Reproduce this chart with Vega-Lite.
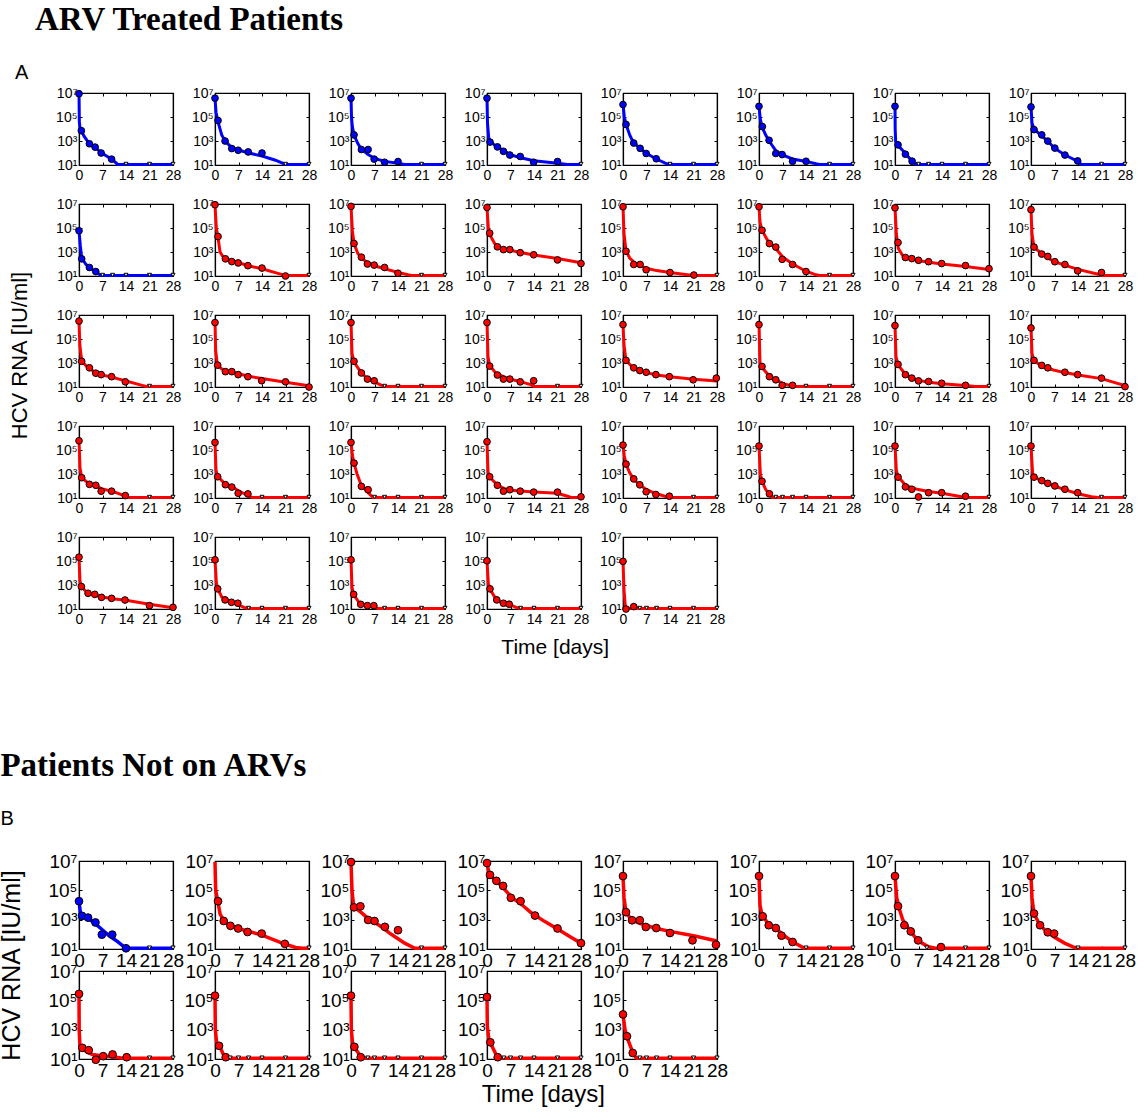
{
"$schema": "https://vega.github.io/schema/vega-lite/v6.json",
"background": "white",
"padding": {"left": 0, "top": 4, "right": 5, "bottom": 5},
"config": {
  "view": {"stroke": "black", "strokeWidth": 1.2},
  "axis": {"grid": false, "domainColor": "black", "domainWidth": 1.2, "tickColor": "black", "tickSize": -3, "tickWidth": 1, "labelColor": "black", "labelFont": "Liberation Sans", "title": null, "labelPadding": 6, "labelFlush": false, "labelOverlap": false},
  "headerFacet": {"labels": false, "labelExpr": "''", "labelFontSize": 1, "labelPadding": 0, "titlePadding": 0},
  "header": {"labels": false, "labelExpr": "''", "labelFontSize": 1, "labelPadding": 0, "titlePadding": 0},
  "title": {"font": "Liberation Sans", "fontWeight": "normal", "color": "black"}
},
"data": {"values": [
{"p":"A01","c":"b","k":"f","t":0,"v":6.94},{"p":"A01","c":"b","k":"f","t":0.1,"v":4.6},{"p":"A01","c":"b","k":"f","t":0.3,"v":4.1},{"p":"A01","c":"b","k":"f","t":0.7,"v":3.86},{"p":"A01","c":"b","k":"f","t":1.5,"v":3.4},{"p":"A01","c":"b","k":"f","t":3,"v":2.8},{"p":"A01","c":"b","k":"f","t":5,"v":2.4},{"p":"A01","c":"b","k":"f","t":7,"v":1.95},{"p":"A01","c":"b","k":"f","t":10,"v":1.45},{"p":"A01","c":"b","k":"f","t":11.5,"v":1.05},{"p":"A01","c":"b","k":"f","t":28,"v":1.05},
{"p":"A01","c":"b","k":"o","t":0,"v":6.94},{"p":"A01","c":"b","k":"o","t":0.7,"v":3.86},{"p":"A01","c":"b","k":"o","t":3.1,"v":2.77},{"p":"A01","c":"b","k":"o","t":4.8,"v":2.49},{"p":"A01","c":"b","k":"o","t":6.6,"v":2.0},{"p":"A01","c":"b","k":"o","t":9.7,"v":1.49},
{"p":"A01","c":"b","k":"q","t":14,"v":1.08},{"p":"A01","c":"b","k":"q","t":21,"v":1.08},{"p":"A01","c":"b","k":"q","t":28,"v":1.08},
{"p":"A02","c":"b","k":"f","t":0,"v":6.57},{"p":"A02","c":"b","k":"f","t":0.3,"v":5.4},{"p":"A02","c":"b","k":"f","t":0.9,"v":4.6},{"p":"A02","c":"b","k":"f","t":2,"v":3.5},{"p":"A02","c":"b","k":"f","t":3,"v":3.0},{"p":"A02","c":"b","k":"f","t":5,"v":2.45},{"p":"A02","c":"b","k":"f","t":7,"v":2.25},{"p":"A02","c":"b","k":"f","t":10,"v":2.0},{"p":"A02","c":"b","k":"f","t":14,"v":1.75},{"p":"A02","c":"b","k":"f","t":18,"v":1.4},{"p":"A02","c":"b","k":"f","t":21,"v":1.05},{"p":"A02","c":"b","k":"f","t":28,"v":1.05},
{"p":"A02","c":"b","k":"o","t":0,"v":6.57},{"p":"A02","c":"b","k":"o","t":0.9,"v":4.71},{"p":"A02","c":"b","k":"o","t":3,"v":3.0},{"p":"A02","c":"b","k":"o","t":5,"v":2.37},{"p":"A02","c":"b","k":"o","t":6.9,"v":2.23},{"p":"A02","c":"b","k":"o","t":9.9,"v":2.09},{"p":"A02","c":"b","k":"o","t":14,"v":2.0},
{"p":"A02","c":"b","k":"q","t":21,"v":1.08},{"p":"A02","c":"b","k":"q","t":28,"v":1.08},
{"p":"A03","c":"b","k":"f","t":0,"v":6.57},{"p":"A03","c":"b","k":"f","t":0.15,"v":5.0},{"p":"A03","c":"b","k":"f","t":0.4,"v":4.2},{"p":"A03","c":"b","k":"f","t":0.9,"v":3.5},{"p":"A03","c":"b","k":"f","t":2,"v":2.8},{"p":"A03","c":"b","k":"f","t":3,"v":2.35},{"p":"A03","c":"b","k":"f","t":5,"v":1.9},{"p":"A03","c":"b","k":"f","t":7,"v":1.55},{"p":"A03","c":"b","k":"f","t":10,"v":1.3},{"p":"A03","c":"b","k":"f","t":14,"v":1.15},{"p":"A03","c":"b","k":"f","t":16,"v":1.05},{"p":"A03","c":"b","k":"f","t":28,"v":1.05},
{"p":"A03","c":"b","k":"o","t":0,"v":6.57},{"p":"A03","c":"b","k":"o","t":0.9,"v":3.51},{"p":"A03","c":"b","k":"o","t":3.1,"v":2.29},{"p":"A03","c":"b","k":"o","t":5.1,"v":2.29},{"p":"A03","c":"b","k":"o","t":6.9,"v":1.49},{"p":"A03","c":"b","k":"o","t":10,"v":1.23},{"p":"A03","c":"b","k":"o","t":14,"v":1.29},
{"p":"A03","c":"b","k":"q","t":21,"v":1.08},{"p":"A03","c":"b","k":"q","t":28,"v":1.08},
{"p":"A04","c":"b","k":"f","t":0,"v":6.57},{"p":"A04","c":"b","k":"f","t":0.15,"v":4.5},{"p":"A04","c":"b","k":"f","t":0.5,"v":3.3},{"p":"A04","c":"b","k":"f","t":0.9,"v":3.0},{"p":"A04","c":"b","k":"f","t":2.5,"v":2.6},{"p":"A04","c":"b","k":"f","t":5,"v":2.2},{"p":"A04","c":"b","k":"f","t":7,"v":1.85},{"p":"A04","c":"b","k":"f","t":10,"v":1.6},{"p":"A04","c":"b","k":"f","t":14,"v":1.35},{"p":"A04","c":"b","k":"f","t":21,"v":1.15},{"p":"A04","c":"b","k":"f","t":24,"v":1.05},{"p":"A04","c":"b","k":"f","t":28,"v":1.05},
{"p":"A04","c":"b","k":"o","t":0,"v":6.57},{"p":"A04","c":"b","k":"o","t":0.9,"v":2.91},{"p":"A04","c":"b","k":"o","t":3.1,"v":2.51},{"p":"A04","c":"b","k":"o","t":4.9,"v":2.14},{"p":"A04","c":"b","k":"o","t":6.8,"v":1.83},{"p":"A04","c":"b","k":"o","t":9.9,"v":1.71},{"p":"A04","c":"b","k":"o","t":13.9,"v":1.23},{"p":"A04","c":"b","k":"o","t":21,"v":1.29},
{"p":"A04","c":"b","k":"q","t":28,"v":1.08},
{"p":"A05","c":"b","k":"f","t":0,"v":6.04},{"p":"A05","c":"b","k":"f","t":0.4,"v":5.0},{"p":"A05","c":"b","k":"f","t":1,"v":4.3},{"p":"A05","c":"b","k":"f","t":2,"v":3.5},{"p":"A05","c":"b","k":"f","t":3,"v":2.9},{"p":"A05","c":"b","k":"f","t":5,"v":2.4},{"p":"A05","c":"b","k":"f","t":7,"v":1.95},{"p":"A05","c":"b","k":"f","t":10,"v":1.5},{"p":"A05","c":"b","k":"f","t":13,"v":1.1},{"p":"A05","c":"b","k":"f","t":14,"v":1.05},{"p":"A05","c":"b","k":"f","t":28,"v":1.05},
{"p":"A05","c":"b","k":"o","t":0,"v":6.04},{"p":"A05","c":"b","k":"o","t":0.9,"v":4.38},{"p":"A05","c":"b","k":"o","t":3.2,"v":2.83},{"p":"A05","c":"b","k":"o","t":5.1,"v":2.39},{"p":"A05","c":"b","k":"o","t":6.9,"v":1.96},{"p":"A05","c":"b","k":"o","t":9.9,"v":1.52},
{"p":"A05","c":"b","k":"q","t":14,"v":1.08},{"p":"A05","c":"b","k":"q","t":21,"v":1.08},{"p":"A05","c":"b","k":"q","t":28,"v":1.08},
{"p":"A06","c":"b","k":"f","t":0,"v":5.89},{"p":"A06","c":"b","k":"f","t":0.4,"v":4.8},{"p":"A06","c":"b","k":"f","t":1,"v":4.1},{"p":"A06","c":"b","k":"f","t":2,"v":3.5},{"p":"A06","c":"b","k":"f","t":3,"v":3.0},{"p":"A06","c":"b","k":"f","t":5,"v":2.2},{"p":"A06","c":"b","k":"f","t":7,"v":1.85},{"p":"A06","c":"b","k":"f","t":10,"v":1.5},{"p":"A06","c":"b","k":"f","t":14,"v":1.3},{"p":"A06","c":"b","k":"f","t":17,"v":1.1},{"p":"A06","c":"b","k":"f","t":18,"v":1.05},{"p":"A06","c":"b","k":"f","t":28,"v":1.05},
{"p":"A06","c":"b","k":"o","t":0,"v":5.89},{"p":"A06","c":"b","k":"o","t":1,"v":4.2},{"p":"A06","c":"b","k":"o","t":3,"v":3.06},{"p":"A06","c":"b","k":"o","t":5,"v":1.96},{"p":"A06","c":"b","k":"o","t":6.9,"v":1.87},{"p":"A06","c":"b","k":"o","t":10,"v":1.31},{"p":"A06","c":"b","k":"o","t":14,"v":1.31},
{"p":"A06","c":"b","k":"q","t":21,"v":1.08},{"p":"A06","c":"b","k":"q","t":28,"v":1.08},
{"p":"A07","c":"b","k":"f","t":0,"v":5.89},{"p":"A07","c":"b","k":"f","t":0.05,"v":4.0},{"p":"A07","c":"b","k":"f","t":0.2,"v":2.95},{"p":"A07","c":"b","k":"f","t":1,"v":2.6},{"p":"A07","c":"b","k":"f","t":3,"v":2.0},{"p":"A07","c":"b","k":"f","t":4.5,"v":1.5},{"p":"A07","c":"b","k":"f","t":6,"v":1.1},{"p":"A07","c":"b","k":"f","t":7,"v":1.05},{"p":"A07","c":"b","k":"f","t":28,"v":1.05},
{"p":"A07","c":"b","k":"o","t":0,"v":5.89},{"p":"A07","c":"b","k":"o","t":0.9,"v":2.68},{"p":"A07","c":"b","k":"o","t":3.1,"v":1.9},{"p":"A07","c":"b","k":"o","t":5.1,"v":1.32},
{"p":"A07","c":"b","k":"q","t":7,"v":1.08},{"p":"A07","c":"b","k":"q","t":10,"v":1.08},{"p":"A07","c":"b","k":"q","t":14,"v":1.08},{"p":"A07","c":"b","k":"q","t":21,"v":1.08},{"p":"A07","c":"b","k":"q","t":28,"v":1.08},
{"p":"A08","c":"b","k":"f","t":0,"v":5.84},{"p":"A08","c":"b","k":"f","t":0.3,"v":4.5},{"p":"A08","c":"b","k":"f","t":0.9,"v":4.0},{"p":"A08","c":"b","k":"f","t":2.5,"v":3.6},{"p":"A08","c":"b","k":"f","t":5,"v":3.0},{"p":"A08","c":"b","k":"f","t":7,"v":2.4},{"p":"A08","c":"b","k":"f","t":10,"v":1.85},{"p":"A08","c":"b","k":"f","t":14,"v":1.3},{"p":"A08","c":"b","k":"f","t":15,"v":1.05},{"p":"A08","c":"b","k":"f","t":28,"v":1.05},
{"p":"A08","c":"b","k":"o","t":0,"v":5.84},{"p":"A08","c":"b","k":"o","t":0.9,"v":3.95},{"p":"A08","c":"b","k":"o","t":3.2,"v":3.51},{"p":"A08","c":"b","k":"o","t":5,"v":2.99},{"p":"A08","c":"b","k":"o","t":7.1,"v":2.41},{"p":"A08","c":"b","k":"o","t":10.1,"v":1.83},{"p":"A08","c":"b","k":"o","t":13.9,"v":1.34},
{"p":"A08","c":"b","k":"q","t":21,"v":1.08},{"p":"A08","c":"b","k":"q","t":28,"v":1.08},
{"p":"A09","c":"b","k":"f","t":0,"v":4.77},{"p":"A09","c":"b","k":"f","t":0.4,"v":3.5},{"p":"A09","c":"b","k":"f","t":0.8,"v":2.5},{"p":"A09","c":"b","k":"f","t":2,"v":2.0},{"p":"A09","c":"b","k":"f","t":3,"v":1.7},{"p":"A09","c":"b","k":"f","t":5,"v":1.35},{"p":"A09","c":"b","k":"f","t":6.5,"v":1.05},{"p":"A09","c":"b","k":"f","t":28,"v":1.05},
{"p":"A09","c":"b","k":"o","t":0,"v":4.77},{"p":"A09","c":"b","k":"o","t":0.8,"v":2.43},{"p":"A09","c":"b","k":"o","t":3.1,"v":1.71},{"p":"A09","c":"b","k":"o","t":5,"v":1.37},
{"p":"A09","c":"b","k":"q","t":7,"v":1.08},{"p":"A09","c":"b","k":"q","t":10,"v":1.08},{"p":"A09","c":"b","k":"q","t":14,"v":1.08},{"p":"A09","c":"b","k":"q","t":21,"v":1.08},{"p":"A09","c":"b","k":"q","t":28,"v":1.08},
{"p":"A10","c":"r","k":"f","t":0,"v":6.94},{"p":"A10","c":"r","k":"f","t":0.4,"v":5.0},{"p":"A10","c":"r","k":"f","t":0.9,"v":4.2},{"p":"A10","c":"r","k":"f","t":1.5,"v":3.0},{"p":"A10","c":"r","k":"f","t":2.5,"v":2.55},{"p":"A10","c":"r","k":"f","t":5,"v":2.25},{"p":"A10","c":"r","k":"f","t":7,"v":2.1},{"p":"A10","c":"r","k":"f","t":10,"v":1.85},{"p":"A10","c":"r","k":"f","t":14,"v":1.6},{"p":"A10","c":"r","k":"f","t":19,"v":1.2},{"p":"A10","c":"r","k":"f","t":21,"v":1.05},{"p":"A10","c":"r","k":"f","t":28,"v":1.05},
{"p":"A10","c":"r","k":"o","t":0,"v":6.94},{"p":"A10","c":"r","k":"o","t":0.9,"v":4.29},{"p":"A10","c":"r","k":"o","t":3.1,"v":2.43},{"p":"A10","c":"r","k":"o","t":5,"v":2.2},{"p":"A10","c":"r","k":"o","t":6.9,"v":2.09},{"p":"A10","c":"r","k":"o","t":9.8,"v":1.86},{"p":"A10","c":"r","k":"o","t":14,"v":1.66},{"p":"A10","c":"r","k":"o","t":21,"v":1.0},
{"p":"A10","c":"r","k":"q","t":28,"v":1.08},
{"p":"A11","c":"r","k":"f","t":0,"v":6.8},{"p":"A11","c":"r","k":"f","t":0.4,"v":4.8},{"p":"A11","c":"r","k":"f","t":0.9,"v":3.7},{"p":"A11","c":"r","k":"f","t":2,"v":2.9},{"p":"A11","c":"r","k":"f","t":3,"v":2.5},{"p":"A11","c":"r","k":"f","t":5,"v":2.1},{"p":"A11","c":"r","k":"f","t":7,"v":1.85},{"p":"A11","c":"r","k":"f","t":10,"v":1.6},{"p":"A11","c":"r","k":"f","t":14,"v":1.3},{"p":"A11","c":"r","k":"f","t":17,"v":1.1},{"p":"A11","c":"r","k":"f","t":18,"v":1.05},{"p":"A11","c":"r","k":"f","t":28,"v":1.05},
{"p":"A11","c":"r","k":"o","t":0,"v":6.8},{"p":"A11","c":"r","k":"o","t":0.9,"v":3.71},{"p":"A11","c":"r","k":"o","t":3.1,"v":2.57},{"p":"A11","c":"r","k":"o","t":4.9,"v":2.0},{"p":"A11","c":"r","k":"o","t":6.9,"v":1.91},{"p":"A11","c":"r","k":"o","t":10,"v":1.71},{"p":"A11","c":"r","k":"o","t":14,"v":1.23},
{"p":"A11","c":"r","k":"q","t":21,"v":1.08},{"p":"A11","c":"r","k":"q","t":28,"v":1.08},
{"p":"A12","c":"r","k":"f","t":0,"v":6.71},{"p":"A12","c":"r","k":"f","t":0.4,"v":5.0},{"p":"A12","c":"r","k":"f","t":0.9,"v":4.4},{"p":"A12","c":"r","k":"f","t":2.5,"v":3.6},{"p":"A12","c":"r","k":"f","t":4,"v":3.3},{"p":"A12","c":"r","k":"f","t":7,"v":3.15},{"p":"A12","c":"r","k":"f","t":10,"v":2.95},{"p":"A12","c":"r","k":"f","t":14,"v":2.75},{"p":"A12","c":"r","k":"f","t":21,"v":2.45},{"p":"A12","c":"r","k":"f","t":28,"v":2.1},
{"p":"A12","c":"r","k":"o","t":0,"v":6.71},{"p":"A12","c":"r","k":"o","t":0.8,"v":4.57},{"p":"A12","c":"r","k":"o","t":3.1,"v":3.43},{"p":"A12","c":"r","k":"o","t":4.9,"v":3.2},{"p":"A12","c":"r","k":"o","t":6.8,"v":3.2},{"p":"A12","c":"r","k":"o","t":9.9,"v":2.94},{"p":"A12","c":"r","k":"o","t":13.9,"v":2.77},{"p":"A12","c":"r","k":"o","t":21,"v":2.34},{"p":"A12","c":"r","k":"o","t":28,"v":2.04},
{"p":"A13","c":"r","k":"f","t":0,"v":6.77},{"p":"A13","c":"r","k":"f","t":0.3,"v":4.5},{"p":"A13","c":"r","k":"f","t":0.9,"v":3.1},{"p":"A13","c":"r","k":"f","t":2,"v":2.5},{"p":"A13","c":"r","k":"f","t":3.5,"v":2.1},{"p":"A13","c":"r","k":"f","t":5,"v":1.85},{"p":"A13","c":"r","k":"f","t":7,"v":1.65},{"p":"A13","c":"r","k":"f","t":10,"v":1.45},{"p":"A13","c":"r","k":"f","t":14,"v":1.3},{"p":"A13","c":"r","k":"f","t":18,"v":1.15},{"p":"A13","c":"r","k":"f","t":21,"v":1.05},{"p":"A13","c":"r","k":"f","t":28,"v":1.05},
{"p":"A13","c":"r","k":"o","t":0,"v":6.77},{"p":"A13","c":"r","k":"o","t":0.9,"v":3.06},{"p":"A13","c":"r","k":"o","t":3.2,"v":1.96},{"p":"A13","c":"r","k":"o","t":5.1,"v":1.96},{"p":"A13","c":"r","k":"o","t":6.9,"v":1.52},{"p":"A13","c":"r","k":"o","t":14,"v":1.29},{"p":"A13","c":"r","k":"o","t":21.1,"v":1.08},
{"p":"A13","c":"r","k":"q","t":28,"v":1.08},
{"p":"A14","c":"r","k":"f","t":0,"v":6.77},{"p":"A14","c":"r","k":"f","t":0.3,"v":5.5},{"p":"A14","c":"r","k":"f","t":0.9,"v":4.8},{"p":"A14","c":"r","k":"f","t":2.5,"v":4.0},{"p":"A14","c":"r","k":"f","t":5,"v":3.3},{"p":"A14","c":"r","k":"f","t":7,"v":2.6},{"p":"A14","c":"r","k":"f","t":10,"v":2.0},{"p":"A14","c":"r","k":"f","t":14,"v":1.4},{"p":"A14","c":"r","k":"f","t":17,"v":1.1},{"p":"A14","c":"r","k":"f","t":18,"v":1.05},{"p":"A14","c":"r","k":"f","t":28,"v":1.05},
{"p":"A14","c":"r","k":"o","t":0,"v":6.77},{"p":"A14","c":"r","k":"o","t":0.9,"v":4.81},{"p":"A14","c":"r","k":"o","t":3.1,"v":3.7},{"p":"A14","c":"r","k":"o","t":5,"v":3.41},{"p":"A14","c":"r","k":"o","t":6.9,"v":2.39},{"p":"A14","c":"r","k":"o","t":10,"v":1.96},{"p":"A14","c":"r","k":"o","t":14,"v":1.37},
{"p":"A14","c":"r","k":"q","t":21,"v":1.08},{"p":"A14","c":"r","k":"q","t":28,"v":1.08},
{"p":"A15","c":"r","k":"f","t":0,"v":6.68},{"p":"A15","c":"r","k":"f","t":0.4,"v":4.5},{"p":"A15","c":"r","k":"f","t":1,"v":3.3},{"p":"A15","c":"r","k":"f","t":2.5,"v":2.6},{"p":"A15","c":"r","k":"f","t":5,"v":2.4},{"p":"A15","c":"r","k":"f","t":7,"v":2.3},{"p":"A15","c":"r","k":"f","t":10,"v":2.15},{"p":"A15","c":"r","k":"f","t":14,"v":2.0},{"p":"A15","c":"r","k":"f","t":21,"v":1.8},{"p":"A15","c":"r","k":"f","t":28,"v":1.55},
{"p":"A15","c":"r","k":"o","t":0,"v":6.68},{"p":"A15","c":"r","k":"o","t":0.9,"v":3.79},{"p":"A15","c":"r","k":"o","t":3.1,"v":2.54},{"p":"A15","c":"r","k":"o","t":5,"v":2.45},{"p":"A15","c":"r","k":"o","t":7,"v":2.31},{"p":"A15","c":"r","k":"o","t":10,"v":2.19},{"p":"A15","c":"r","k":"o","t":13.9,"v":2.04},{"p":"A15","c":"r","k":"o","t":21,"v":1.87},{"p":"A15","c":"r","k":"o","t":28,"v":1.61},
{"p":"A16","c":"r","k":"f","t":0,"v":6.53},{"p":"A16","c":"r","k":"f","t":0.3,"v":4.5},{"p":"A16","c":"r","k":"f","t":0.9,"v":3.4},{"p":"A16","c":"r","k":"f","t":3,"v":2.9},{"p":"A16","c":"r","k":"f","t":5,"v":2.5},{"p":"A16","c":"r","k":"f","t":7,"v":2.2},{"p":"A16","c":"r","k":"f","t":10,"v":1.9},{"p":"A16","c":"r","k":"f","t":14,"v":1.55},{"p":"A16","c":"r","k":"f","t":20,"v":1.15},{"p":"A16","c":"r","k":"f","t":21,"v":1.05},{"p":"A16","c":"r","k":"f","t":28,"v":1.05},
{"p":"A16","c":"r","k":"o","t":0,"v":6.53},{"p":"A16","c":"r","k":"o","t":0.9,"v":3.41},{"p":"A16","c":"r","k":"o","t":3.2,"v":2.83},{"p":"A16","c":"r","k":"o","t":5,"v":2.63},{"p":"A16","c":"r","k":"o","t":7.1,"v":2.19},{"p":"A16","c":"r","k":"o","t":10.1,"v":1.96},{"p":"A16","c":"r","k":"o","t":13.9,"v":1.43},{"p":"A16","c":"r","k":"o","t":21,"v":1.29},
{"p":"A16","c":"r","k":"q","t":28,"v":1.08},
{"p":"A17","c":"r","k":"f","t":0,"v":6.49},{"p":"A17","c":"r","k":"f","t":0.25,"v":4.5},{"p":"A17","c":"r","k":"f","t":0.8,"v":3.2},{"p":"A17","c":"r","k":"f","t":2,"v":2.8},{"p":"A17","c":"r","k":"f","t":3,"v":2.55},{"p":"A17","c":"r","k":"f","t":5,"v":2.2},{"p":"A17","c":"r","k":"f","t":7,"v":2.0},{"p":"A17","c":"r","k":"f","t":10,"v":1.8},{"p":"A17","c":"r","k":"f","t":14,"v":1.5},{"p":"A17","c":"r","k":"f","t":18,"v":1.2},{"p":"A17","c":"r","k":"f","t":20,"v":1.05},{"p":"A17","c":"r","k":"f","t":28,"v":1.05},
{"p":"A17","c":"r","k":"o","t":0,"v":6.49},{"p":"A17","c":"r","k":"o","t":0.8,"v":3.14},{"p":"A17","c":"r","k":"o","t":3.1,"v":2.6},{"p":"A17","c":"r","k":"o","t":5,"v":2.15},{"p":"A17","c":"r","k":"o","t":6.6,"v":2.03},{"p":"A17","c":"r","k":"o","t":9.7,"v":1.86},{"p":"A17","c":"r","k":"o","t":13.8,"v":1.43},
{"p":"A17","c":"r","k":"q","t":21,"v":1.08},{"p":"A17","c":"r","k":"q","t":28,"v":1.08},
{"p":"A18","c":"r","k":"f","t":0,"v":6.37},{"p":"A18","c":"r","k":"f","t":0.2,"v":4.0},{"p":"A18","c":"r","k":"f","t":0.7,"v":2.9},{"p":"A18","c":"r","k":"f","t":2,"v":2.5},{"p":"A18","c":"r","k":"f","t":4,"v":2.3},{"p":"A18","c":"r","k":"f","t":7,"v":2.1},{"p":"A18","c":"r","k":"f","t":10,"v":1.9},{"p":"A18","c":"r","k":"f","t":14,"v":1.7},{"p":"A18","c":"r","k":"f","t":21,"v":1.4},{"p":"A18","c":"r","k":"f","t":28,"v":1.1},
{"p":"A18","c":"r","k":"o","t":0,"v":6.37},{"p":"A18","c":"r","k":"o","t":0.8,"v":2.82},{"p":"A18","c":"r","k":"o","t":3.1,"v":2.28},{"p":"A18","c":"r","k":"o","t":5,"v":2.28},{"p":"A18","c":"r","k":"o","t":6.9,"v":2.03},{"p":"A18","c":"r","k":"o","t":9.8,"v":1.86},{"p":"A18","c":"r","k":"o","t":13.9,"v":1.52},{"p":"A18","c":"r","k":"o","t":21,"v":1.43},{"p":"A18","c":"r","k":"o","t":28,"v":1.0},
{"p":"A19","c":"r","k":"f","t":0,"v":6.37},{"p":"A19","c":"r","k":"f","t":0.3,"v":3.8},{"p":"A19","c":"r","k":"f","t":0.9,"v":3.1},{"p":"A19","c":"r","k":"f","t":2.3,"v":2.5},{"p":"A19","c":"r","k":"f","t":3.8,"v":2.0},{"p":"A19","c":"r","k":"f","t":5,"v":1.65},{"p":"A19","c":"r","k":"f","t":7,"v":1.4},{"p":"A19","c":"r","k":"f","t":9,"v":1.15},{"p":"A19","c":"r","k":"f","t":10,"v":1.05},{"p":"A19","c":"r","k":"f","t":28,"v":1.05},
{"p":"A19","c":"r","k":"o","t":0,"v":6.37},{"p":"A19","c":"r","k":"o","t":0.9,"v":3.14},{"p":"A19","c":"r","k":"o","t":3.1,"v":2.17},{"p":"A19","c":"r","k":"o","t":4.9,"v":1.66},{"p":"A19","c":"r","k":"o","t":6.9,"v":1.52},
{"p":"A19","c":"r","k":"q","t":10,"v":1.08},{"p":"A19","c":"r","k":"q","t":14,"v":1.08},{"p":"A19","c":"r","k":"q","t":21,"v":1.08},{"p":"A19","c":"r","k":"q","t":28,"v":1.08},
{"p":"A20","c":"r","k":"f","t":0,"v":6.37},{"p":"A20","c":"r","k":"f","t":0.3,"v":3.5},{"p":"A20","c":"r","k":"f","t":0.8,"v":2.8},{"p":"A20","c":"r","k":"f","t":2.5,"v":2.2},{"p":"A20","c":"r","k":"f","t":5,"v":1.85},{"p":"A20","c":"r","k":"f","t":7,"v":1.65},{"p":"A20","c":"r","k":"f","t":10,"v":1.45},{"p":"A20","c":"r","k":"f","t":13,"v":1.2},{"p":"A20","c":"r","k":"f","t":14,"v":1.05},{"p":"A20","c":"r","k":"f","t":28,"v":1.05},
{"p":"A20","c":"r","k":"o","t":0,"v":6.37},{"p":"A20","c":"r","k":"o","t":0.8,"v":2.74},{"p":"A20","c":"r","k":"o","t":3.1,"v":2.0},{"p":"A20","c":"r","k":"o","t":4.9,"v":1.66},{"p":"A20","c":"r","k":"o","t":6.8,"v":1.66},{"p":"A20","c":"r","k":"o","t":9.9,"v":1.43},{"p":"A20","c":"r","k":"o","t":13.9,"v":1.52},
{"p":"A20","c":"r","k":"q","t":21,"v":1.08},{"p":"A20","c":"r","k":"q","t":28,"v":1.08},
{"p":"A21","c":"r","k":"f","t":0,"v":6.2},{"p":"A21","c":"r","k":"f","t":0.3,"v":4.5},{"p":"A21","c":"r","k":"f","t":0.9,"v":3.2},{"p":"A21","c":"r","k":"f","t":3,"v":2.6},{"p":"A21","c":"r","k":"f","t":5,"v":2.4},{"p":"A21","c":"r","k":"f","t":7,"v":2.2},{"p":"A21","c":"r","k":"f","t":10,"v":2.0},{"p":"A21","c":"r","k":"f","t":14,"v":1.85},{"p":"A21","c":"r","k":"f","t":21,"v":1.65},{"p":"A21","c":"r","k":"f","t":28,"v":1.5},
{"p":"A21","c":"r","k":"o","t":0,"v":6.2},{"p":"A21","c":"r","k":"o","t":0.9,"v":3.22},{"p":"A21","c":"r","k":"o","t":3.2,"v":2.6},{"p":"A21","c":"r","k":"o","t":5,"v":2.37},{"p":"A21","c":"r","k":"o","t":6.9,"v":2.23},{"p":"A21","c":"r","k":"o","t":9.8,"v":2.03},{"p":"A21","c":"r","k":"o","t":13.8,"v":1.86},{"p":"A21","c":"r","k":"o","t":20.9,"v":1.6},{"p":"A21","c":"r","k":"o","t":27.8,"v":1.74},
{"p":"A22","c":"r","k":"f","t":0,"v":6.2},{"p":"A22","c":"r","k":"f","t":0.3,"v":3.0},{"p":"A22","c":"r","k":"f","t":1,"v":2.6},{"p":"A22","c":"r","k":"f","t":2.8,"v":2.0},{"p":"A22","c":"r","k":"f","t":5,"v":1.6},{"p":"A22","c":"r","k":"f","t":7,"v":1.3},{"p":"A22","c":"r","k":"f","t":9.5,"v":1.1},{"p":"A22","c":"r","k":"f","t":10,"v":1.05},{"p":"A22","c":"r","k":"f","t":28,"v":1.05},
{"p":"A22","c":"r","k":"o","t":0,"v":6.2},{"p":"A22","c":"r","k":"o","t":0.9,"v":2.71},{"p":"A22","c":"r","k":"o","t":3.1,"v":1.86},{"p":"A22","c":"r","k":"o","t":5,"v":1.6},{"p":"A22","c":"r","k":"o","t":6.9,"v":1.14},{"p":"A22","c":"r","k":"o","t":10,"v":1.14},
{"p":"A22","c":"r","k":"q","t":14,"v":1.08},{"p":"A22","c":"r","k":"q","t":21,"v":1.08},{"p":"A22","c":"r","k":"q","t":28,"v":1.08},
{"p":"A23","c":"r","k":"f","t":0,"v":6.12},{"p":"A23","c":"r","k":"f","t":0.3,"v":3.5},{"p":"A23","c":"r","k":"f","t":1,"v":2.8},{"p":"A23","c":"r","k":"f","t":3,"v":2.1},{"p":"A23","c":"r","k":"f","t":5,"v":1.75},{"p":"A23","c":"r","k":"f","t":7,"v":1.55},{"p":"A23","c":"r","k":"f","t":10,"v":1.4},{"p":"A23","c":"r","k":"f","t":14,"v":1.28},{"p":"A23","c":"r","k":"f","t":21,"v":1.12},{"p":"A23","c":"r","k":"f","t":24,"v":1.05},{"p":"A23","c":"r","k":"f","t":28,"v":1.05},
{"p":"A23","c":"r","k":"o","t":0,"v":6.12},{"p":"A23","c":"r","k":"o","t":0.9,"v":2.88},{"p":"A23","c":"r","k":"o","t":3.1,"v":2.03},{"p":"A23","c":"r","k":"o","t":5,"v":1.74},{"p":"A23","c":"r","k":"o","t":7,"v":1.51},{"p":"A23","c":"r","k":"o","t":10,"v":1.46},{"p":"A23","c":"r","k":"o","t":13.9,"v":1.31},{"p":"A23","c":"r","k":"o","t":21,"v":1.14},
{"p":"A23","c":"r","k":"q","t":28,"v":1.08},
{"p":"A24","c":"r","k":"f","t":0,"v":5.92},{"p":"A24","c":"r","k":"f","t":0.3,"v":3.8},{"p":"A24","c":"r","k":"f","t":0.8,"v":3.2},{"p":"A24","c":"r","k":"f","t":3,"v":2.8},{"p":"A24","c":"r","k":"f","t":5,"v":2.55},{"p":"A24","c":"r","k":"f","t":7,"v":2.4},{"p":"A24","c":"r","k":"f","t":10,"v":2.2},{"p":"A24","c":"r","k":"f","t":14,"v":2.0},{"p":"A24","c":"r","k":"f","t":21,"v":1.7},{"p":"A24","c":"r","k":"f","t":27,"v":1.2},{"p":"A24","c":"r","k":"f","t":28,"v":1.05},
{"p":"A24","c":"r","k":"o","t":0,"v":5.92},{"p":"A24","c":"r","k":"o","t":0.9,"v":3.22},{"p":"A24","c":"r","k":"o","t":3.2,"v":2.8},{"p":"A24","c":"r","k":"o","t":5,"v":2.6},{"p":"A24","c":"r","k":"o","t":10.1,"v":2.23},{"p":"A24","c":"r","k":"o","t":13.9,"v":2.03},{"p":"A24","c":"r","k":"o","t":21,"v":1.74},{"p":"A24","c":"r","k":"o","t":28,"v":1.03},
{"p":"A25","c":"r","k":"f","t":0,"v":5.77},{"p":"A25","c":"r","k":"f","t":0.3,"v":3.5},{"p":"A25","c":"r","k":"f","t":0.8,"v":2.7},{"p":"A25","c":"r","k":"f","t":2.5,"v":2.3},{"p":"A25","c":"r","k":"f","t":5,"v":2.0},{"p":"A25","c":"r","k":"f","t":7,"v":1.75},{"p":"A25","c":"r","k":"f","t":10,"v":1.55},{"p":"A25","c":"r","k":"f","t":13,"v":1.25},{"p":"A25","c":"r","k":"f","t":14,"v":1.05},{"p":"A25","c":"r","k":"f","t":28,"v":1.05},
{"p":"A25","c":"r","k":"o","t":0,"v":5.77},{"p":"A25","c":"r","k":"o","t":0.8,"v":2.69},{"p":"A25","c":"r","k":"o","t":3.1,"v":2.14},{"p":"A25","c":"r","k":"o","t":5,"v":2.06},{"p":"A25","c":"r","k":"o","t":6.6,"v":1.57},{"p":"A25","c":"r","k":"o","t":9.7,"v":1.57},{"p":"A25","c":"r","k":"o","t":13.8,"v":1.2},
{"p":"A25","c":"r","k":"q","t":21,"v":1.08},{"p":"A25","c":"r","k":"q","t":28,"v":1.08},
{"p":"A26","c":"r","k":"f","t":0,"v":5.63},{"p":"A26","c":"r","k":"f","t":0.3,"v":3.3},{"p":"A26","c":"r","k":"f","t":0.8,"v":2.8},{"p":"A26","c":"r","k":"f","t":2.5,"v":2.3},{"p":"A26","c":"r","k":"f","t":5,"v":1.95},{"p":"A26","c":"r","k":"f","t":7,"v":1.6},{"p":"A26","c":"r","k":"f","t":9.5,"v":1.25},{"p":"A26","c":"r","k":"f","t":11,"v":1.05},{"p":"A26","c":"r","k":"f","t":28,"v":1.05},
{"p":"A26","c":"r","k":"o","t":0,"v":5.63},{"p":"A26","c":"r","k":"o","t":0.8,"v":2.77},{"p":"A26","c":"r","k":"o","t":3.1,"v":2.11},{"p":"A26","c":"r","k":"o","t":5,"v":1.91},{"p":"A26","c":"r","k":"o","t":6.9,"v":1.4},{"p":"A26","c":"r","k":"o","t":9.8,"v":1.34},
{"p":"A26","c":"r","k":"q","t":14,"v":1.08},{"p":"A26","c":"r","k":"q","t":21,"v":1.08},{"p":"A26","c":"r","k":"q","t":28,"v":1.08},
{"p":"A27","c":"r","k":"f","t":0,"v":5.63},{"p":"A27","c":"r","k":"f","t":0.4,"v":4.6},{"p":"A27","c":"r","k":"f","t":0.9,"v":3.9},{"p":"A27","c":"r","k":"f","t":1.8,"v":3.0},{"p":"A27","c":"r","k":"f","t":3,"v":2.1},{"p":"A27","c":"r","k":"f","t":4.5,"v":1.6},{"p":"A27","c":"r","k":"f","t":6,"v":1.2},{"p":"A27","c":"r","k":"f","t":6.5,"v":1.05},{"p":"A27","c":"r","k":"f","t":28,"v":1.05},
{"p":"A27","c":"r","k":"o","t":0,"v":5.63},{"p":"A27","c":"r","k":"o","t":0.9,"v":3.91},{"p":"A27","c":"r","k":"o","t":3.1,"v":1.97},{"p":"A27","c":"r","k":"o","t":5.1,"v":1.69},
{"p":"A27","c":"r","k":"q","t":7,"v":1.08},{"p":"A27","c":"r","k":"q","t":10,"v":1.08},{"p":"A27","c":"r","k":"q","t":14,"v":1.08},{"p":"A27","c":"r","k":"q","t":21,"v":1.08},{"p":"A27","c":"r","k":"q","t":28,"v":1.08},
{"p":"A28","c":"r","k":"f","t":0,"v":5.69},{"p":"A28","c":"r","k":"f","t":0.3,"v":3.2},{"p":"A28","c":"r","k":"f","t":0.8,"v":2.75},{"p":"A28","c":"r","k":"f","t":3,"v":2.1},{"p":"A28","c":"r","k":"f","t":5,"v":1.8},{"p":"A28","c":"r","k":"f","t":7,"v":1.65},{"p":"A28","c":"r","k":"f","t":10,"v":1.58},{"p":"A28","c":"r","k":"f","t":14,"v":1.5},{"p":"A28","c":"r","k":"f","t":21,"v":1.4},{"p":"A28","c":"r","k":"f","t":24,"v":1.15},{"p":"A28","c":"r","k":"f","t":25,"v":1.05},{"p":"A28","c":"r","k":"f","t":28,"v":1.05},
{"p":"A28","c":"r","k":"o","t":0,"v":5.69},{"p":"A28","c":"r","k":"o","t":0.8,"v":2.77},{"p":"A28","c":"r","k":"o","t":3.1,"v":2.06},{"p":"A28","c":"r","k":"o","t":4.9,"v":1.57},{"p":"A28","c":"r","k":"o","t":6.8,"v":1.69},{"p":"A28","c":"r","k":"o","t":9.9,"v":1.57},{"p":"A28","c":"r","k":"o","t":13.9,"v":1.49},{"p":"A28","c":"r","k":"o","t":21,"v":1.49},{"p":"A28","c":"r","k":"o","t":28,"v":1.1},
{"p":"A29","c":"r","k":"f","t":0,"v":5.41},{"p":"A29","c":"r","k":"f","t":0.4,"v":4.5},{"p":"A29","c":"r","k":"f","t":0.9,"v":3.8},{"p":"A29","c":"r","k":"f","t":2,"v":3.1},{"p":"A29","c":"r","k":"f","t":3.2,"v":2.55},{"p":"A29","c":"r","k":"f","t":5,"v":2.1},{"p":"A29","c":"r","k":"f","t":7,"v":1.7},{"p":"A29","c":"r","k":"f","t":10,"v":1.35},{"p":"A29","c":"r","k":"f","t":13,"v":1.1},{"p":"A29","c":"r","k":"f","t":14,"v":1.05},{"p":"A29","c":"r","k":"f","t":28,"v":1.05},
{"p":"A29","c":"r","k":"o","t":0,"v":5.41},{"p":"A29","c":"r","k":"o","t":0.9,"v":3.83},{"p":"A29","c":"r","k":"o","t":3.2,"v":2.59},{"p":"A29","c":"r","k":"o","t":5,"v":2.1},{"p":"A29","c":"r","k":"o","t":6.9,"v":1.52},{"p":"A29","c":"r","k":"o","t":9.8,"v":1.29},{"p":"A29","c":"r","k":"o","t":13.8,"v":1.15},
{"p":"A29","c":"r","k":"q","t":21,"v":1.08},{"p":"A29","c":"r","k":"q","t":28,"v":1.08},
{"p":"A30","c":"r","k":"f","t":0,"v":5.33},{"p":"A30","c":"r","k":"f","t":0.4,"v":3.0},{"p":"A30","c":"r","k":"f","t":0.9,"v":2.4},{"p":"A30","c":"r","k":"f","t":2,"v":1.7},{"p":"A30","c":"r","k":"f","t":3.1,"v":1.3},{"p":"A30","c":"r","k":"f","t":4,"v":1.05},{"p":"A30","c":"r","k":"f","t":28,"v":1.05},
{"p":"A30","c":"r","k":"o","t":0,"v":5.33},{"p":"A30","c":"r","k":"o","t":0.9,"v":2.39},{"p":"A30","c":"r","k":"o","t":3.1,"v":1.35},
{"p":"A30","c":"r","k":"q","t":5,"v":1.08},{"p":"A30","c":"r","k":"q","t":7,"v":1.08},{"p":"A30","c":"r","k":"q","t":10,"v":1.08},{"p":"A30","c":"r","k":"q","t":14,"v":1.08},{"p":"A30","c":"r","k":"q","t":21,"v":1.08},{"p":"A30","c":"r","k":"q","t":28,"v":1.08},
{"p":"A31","c":"r","k":"f","t":0,"v":5.33},{"p":"A31","c":"r","k":"f","t":0.4,"v":3.3},{"p":"A31","c":"r","k":"f","t":0.9,"v":2.8},{"p":"A31","c":"r","k":"f","t":3,"v":2.1},{"p":"A31","c":"r","k":"f","t":5,"v":1.85},{"p":"A31","c":"r","k":"f","t":7,"v":1.7},{"p":"A31","c":"r","k":"f","t":10,"v":1.55},{"p":"A31","c":"r","k":"f","t":14,"v":1.4},{"p":"A31","c":"r","k":"f","t":19,"v":1.15},{"p":"A31","c":"r","k":"f","t":21,"v":1.05},{"p":"A31","c":"r","k":"f","t":28,"v":1.05},
{"p":"A31","c":"r","k":"o","t":0,"v":5.33},{"p":"A31","c":"r","k":"o","t":0.9,"v":2.74},{"p":"A31","c":"r","k":"o","t":3.1,"v":1.93},{"p":"A31","c":"r","k":"o","t":5,"v":1.73},{"p":"A31","c":"r","k":"o","t":7,"v":1.09},{"p":"A31","c":"r","k":"o","t":10,"v":1.44},{"p":"A31","c":"r","k":"o","t":13.9,"v":1.44},{"p":"A31","c":"r","k":"o","t":21,"v":1.15},
{"p":"A31","c":"r","k":"q","t":28,"v":1.08},
{"p":"A32","c":"r","k":"f","t":0,"v":5.33},{"p":"A32","c":"r","k":"f","t":0.5,"v":3.0},{"p":"A32","c":"r","k":"f","t":0.9,"v":2.75},{"p":"A32","c":"r","k":"f","t":3,"v":2.45},{"p":"A32","c":"r","k":"f","t":5,"v":2.2},{"p":"A32","c":"r","k":"f","t":7,"v":2.0},{"p":"A32","c":"r","k":"f","t":10,"v":1.7},{"p":"A32","c":"r","k":"f","t":14,"v":1.35},{"p":"A32","c":"r","k":"f","t":18,"v":1.1},{"p":"A32","c":"r","k":"f","t":20,"v":1.05},{"p":"A32","c":"r","k":"f","t":28,"v":1.05},
{"p":"A32","c":"r","k":"o","t":0,"v":5.33},{"p":"A32","c":"r","k":"o","t":0.9,"v":2.74},{"p":"A32","c":"r","k":"o","t":3.2,"v":2.45},{"p":"A32","c":"r","k":"o","t":5,"v":2.22},{"p":"A32","c":"r","k":"o","t":7.1,"v":2.01},{"p":"A32","c":"r","k":"o","t":10.1,"v":1.73},{"p":"A32","c":"r","k":"o","t":13.9,"v":1.44},
{"p":"A32","c":"r","k":"q","t":21,"v":1.08},{"p":"A32","c":"r","k":"q","t":28,"v":1.08},
{"p":"A33","c":"r","k":"f","t":0,"v":5.32},{"p":"A33","c":"r","k":"f","t":0.3,"v":3.3},{"p":"A33","c":"r","k":"f","t":0.8,"v":2.8},{"p":"A33","c":"r","k":"f","t":2,"v":2.5},{"p":"A33","c":"r","k":"f","t":4,"v":2.2},{"p":"A33","c":"r","k":"f","t":7,"v":2.0},{"p":"A33","c":"r","k":"f","t":10,"v":1.85},{"p":"A33","c":"r","k":"f","t":14,"v":1.72},{"p":"A33","c":"r","k":"f","t":21,"v":1.4},{"p":"A33","c":"r","k":"f","t":27,"v":1.15},{"p":"A33","c":"r","k":"f","t":28,"v":1.1},
{"p":"A33","c":"r","k":"o","t":0,"v":5.32},{"p":"A33","c":"r","k":"o","t":0.7,"v":2.87},{"p":"A33","c":"r","k":"o","t":2.7,"v":2.31},{"p":"A33","c":"r","k":"o","t":4.7,"v":2.22},{"p":"A33","c":"r","k":"o","t":6.7,"v":1.97},{"p":"A33","c":"r","k":"o","t":9.7,"v":1.89},{"p":"A33","c":"r","k":"o","t":13.7,"v":1.75},{"p":"A33","c":"r","k":"o","t":21,"v":1.28},{"p":"A33","c":"r","k":"o","t":28,"v":1.14},
{"p":"A34","c":"r","k":"f","t":0,"v":5.1},{"p":"A34","c":"r","k":"f","t":0.4,"v":3.2},{"p":"A34","c":"r","k":"f","t":0.8,"v":2.7},{"p":"A34","c":"r","k":"f","t":2,"v":2.0},{"p":"A34","c":"r","k":"f","t":3.5,"v":1.7},{"p":"A34","c":"r","k":"f","t":5.5,"v":1.5},{"p":"A34","c":"r","k":"f","t":7,"v":1.35},{"p":"A34","c":"r","k":"f","t":9,"v":1.1},{"p":"A34","c":"r","k":"f","t":10,"v":1.05},{"p":"A34","c":"r","k":"f","t":28,"v":1.05},
{"p":"A34","c":"r","k":"o","t":0,"v":5.1},{"p":"A34","c":"r","k":"o","t":0.8,"v":2.68},{"p":"A34","c":"r","k":"o","t":3,"v":1.76},{"p":"A34","c":"r","k":"o","t":4.9,"v":1.56},{"p":"A34","c":"r","k":"o","t":6.8,"v":1.48},
{"p":"A34","c":"r","k":"q","t":10,"v":1.08},{"p":"A34","c":"r","k":"q","t":14,"v":1.08},{"p":"A34","c":"r","k":"q","t":21,"v":1.08},{"p":"A34","c":"r","k":"q","t":28,"v":1.08},
{"p":"A35","c":"r","k":"f","t":0,"v":5.1},{"p":"A35","c":"r","k":"f","t":0.3,"v":2.8},{"p":"A35","c":"r","k":"f","t":0.8,"v":2.2},{"p":"A35","c":"r","k":"f","t":2.5,"v":1.5},{"p":"A35","c":"r","k":"f","t":5,"v":1.3},{"p":"A35","c":"r","k":"f","t":7,"v":1.2},{"p":"A35","c":"r","k":"f","t":8,"v":1.05},{"p":"A35","c":"r","k":"f","t":28,"v":1.05},
{"p":"A35","c":"r","k":"o","t":0,"v":5.1},{"p":"A35","c":"r","k":"o","t":0.8,"v":2.22},{"p":"A35","c":"r","k":"o","t":2.9,"v":1.39},{"p":"A35","c":"r","k":"o","t":4.9,"v":1.28},{"p":"A35","c":"r","k":"o","t":6.8,"v":1.28},
{"p":"A35","c":"r","k":"q","t":10,"v":1.08},{"p":"A35","c":"r","k":"q","t":14,"v":1.08},{"p":"A35","c":"r","k":"q","t":21,"v":1.08},{"p":"A35","c":"r","k":"q","t":28,"v":1.08},
{"p":"A36","c":"r","k":"f","t":0,"v":5.02},{"p":"A36","c":"r","k":"f","t":0.4,"v":3.1},{"p":"A36","c":"r","k":"f","t":1,"v":2.6},{"p":"A36","c":"r","k":"f","t":2.3,"v":2.0},{"p":"A36","c":"r","k":"f","t":4,"v":1.6},{"p":"A36","c":"r","k":"f","t":6.5,"v":1.4},{"p":"A36","c":"r","k":"f","t":9,"v":1.1},{"p":"A36","c":"r","k":"f","t":10,"v":1.05},{"p":"A36","c":"r","k":"f","t":28,"v":1.05},
{"p":"A36","c":"r","k":"o","t":0,"v":5.02},{"p":"A36","c":"r","k":"o","t":0.9,"v":2.68},{"p":"A36","c":"r","k":"o","t":2.9,"v":1.76},{"p":"A36","c":"r","k":"o","t":4.9,"v":1.48},{"p":"A36","c":"r","k":"o","t":6.6,"v":1.4},
{"p":"A36","c":"r","k":"q","t":10,"v":1.08},{"p":"A36","c":"r","k":"q","t":14,"v":1.08},{"p":"A36","c":"r","k":"q","t":21,"v":1.08},{"p":"A36","c":"r","k":"q","t":28,"v":1.08},
{"p":"A37","c":"r","k":"f","t":0,"v":4.97},{"p":"A37","c":"r","k":"f","t":0.3,"v":2.6},{"p":"A37","c":"r","k":"f","t":0.7,"v":1.2},{"p":"A37","c":"r","k":"f","t":1,"v":1.05},{"p":"A37","c":"r","k":"f","t":28,"v":1.05},
{"p":"A37","c":"r","k":"o","t":0,"v":4.97},{"p":"A37","c":"r","k":"o","t":0.9,"v":1.0},{"p":"A37","c":"r","k":"o","t":3.2,"v":1.2},
{"p":"A37","c":"r","k":"q","t":5,"v":1.08},{"p":"A37","c":"r","k":"q","t":7,"v":1.08},{"p":"A37","c":"r","k":"q","t":10,"v":1.08},{"p":"A37","c":"r","k":"q","t":14,"v":1.08},{"p":"A37","c":"r","k":"q","t":21,"v":1.08},{"p":"A37","c":"r","k":"q","t":28,"v":1.08},
{"p":"B01","c":"b","k":"f","t":0,"v":4.26},{"p":"B01","c":"b","k":"f","t":0.5,"v":3.3},{"p":"B01","c":"b","k":"f","t":2.5,"v":3.1},{"p":"B01","c":"b","k":"f","t":4.5,"v":2.8},{"p":"B01","c":"b","k":"f","t":6.5,"v":2.4},{"p":"B01","c":"b","k":"f","t":9,"v":1.9},{"p":"B01","c":"b","k":"f","t":11.5,"v":1.5},{"p":"B01","c":"b","k":"f","t":14,"v":1.05},{"p":"B01","c":"b","k":"f","t":28,"v":1.05},
{"p":"B01","c":"b","k":"o","t":0,"v":4.26},{"p":"B01","c":"b","k":"o","t":0.9,"v":3.26},{"p":"B01","c":"b","k":"o","t":2.7,"v":3.14},{"p":"B01","c":"b","k":"o","t":4.9,"v":2.81},{"p":"B01","c":"b","k":"o","t":6.8,"v":1.98},{"p":"B01","c":"b","k":"o","t":9.9,"v":1.98},{"p":"B01","c":"b","k":"o","t":14,"v":1.05},
{"p":"B01","c":"b","k":"q","t":21,"v":1.08},{"p":"B01","c":"b","k":"q","t":28,"v":1.08},
{"p":"B02","c":"r","k":"f","t":0,"v":6.93},{"p":"B02","c":"r","k":"f","t":0.2,"v":5.0},{"p":"B02","c":"r","k":"f","t":0.8,"v":4.3},{"p":"B02","c":"r","k":"f","t":1.5,"v":3.4},{"p":"B02","c":"r","k":"f","t":2.5,"v":2.95},{"p":"B02","c":"r","k":"f","t":4.5,"v":2.6},{"p":"B02","c":"r","k":"f","t":7,"v":2.4},{"p":"B02","c":"r","k":"f","t":10,"v":2.2},{"p":"B02","c":"r","k":"f","t":14,"v":1.95},{"p":"B02","c":"r","k":"f","t":20,"v":1.4},{"p":"B02","c":"r","k":"f","t":24,"v":1.1},{"p":"B02","c":"r","k":"f","t":26,"v":1.05},{"p":"B02","c":"r","k":"f","t":28,"v":1.05},
{"p":"B02","c":"r","k":"o","t":0.9,"v":4.26},{"p":"B02","c":"r","k":"o","t":2.6,"v":2.91},{"p":"B02","c":"r","k":"o","t":4.6,"v":2.58},{"p":"B02","c":"r","k":"o","t":6.9,"v":2.4},{"p":"B02","c":"r","k":"o","t":9.7,"v":2.16},{"p":"B02","c":"r","k":"o","t":13.9,"v":2.05},{"p":"B02","c":"r","k":"o","t":20.8,"v":1.35},
{"p":"B02","c":"r","k":"q","t":28,"v":1.08},
{"p":"B03","c":"r","k":"f","t":0,"v":6.93},{"p":"B03","c":"r","k":"f","t":0.3,"v":5.0},{"p":"B03","c":"r","k":"f","t":0.8,"v":3.9},{"p":"B03","c":"r","k":"f","t":3,"v":3.5},{"p":"B03","c":"r","k":"f","t":5.5,"v":3.0},{"p":"B03","c":"r","k":"f","t":8.5,"v":2.6},{"p":"B03","c":"r","k":"f","t":12,"v":2.0},{"p":"B03","c":"r","k":"f","t":16,"v":1.4},{"p":"B03","c":"r","k":"f","t":19,"v":1.05},{"p":"B03","c":"r","k":"f","t":28,"v":1.05},
{"p":"B03","c":"r","k":"o","t":0,"v":6.93},{"p":"B03","c":"r","k":"o","t":0.9,"v":3.84},{"p":"B03","c":"r","k":"o","t":2.8,"v":3.91},{"p":"B03","c":"r","k":"o","t":5.1,"v":2.98},{"p":"B03","c":"r","k":"o","t":7,"v":2.91},{"p":"B03","c":"r","k":"o","t":10.1,"v":2.51},{"p":"B03","c":"r","k":"o","t":14,"v":2.28},
{"p":"B03","c":"r","k":"q","t":21,"v":1.08},{"p":"B03","c":"r","k":"q","t":28,"v":1.08},
{"p":"B04","c":"r","k":"f","t":0,"v":6.86},{"p":"B04","c":"r","k":"f","t":0.5,"v":6.3},{"p":"B04","c":"r","k":"f","t":1.5,"v":5.9},{"p":"B04","c":"r","k":"f","t":3.5,"v":5.5},{"p":"B04","c":"r","k":"f","t":5.5,"v":5.0},{"p":"B04","c":"r","k":"f","t":7.5,"v":4.5},{"p":"B04","c":"r","k":"f","t":10.5,"v":4.0},{"p":"B04","c":"r","k":"f","t":13,"v":3.5},{"p":"B04","c":"r","k":"f","t":17,"v":2.9},{"p":"B04","c":"r","k":"f","t":21.5,"v":2.3},{"p":"B04","c":"r","k":"f","t":25,"v":1.8},{"p":"B04","c":"r","k":"f","t":28,"v":1.4},
{"p":"B04","c":"r","k":"o","t":0,"v":6.86},{"p":"B04","c":"r","k":"o","t":0.9,"v":6.05},{"p":"B04","c":"r","k":"o","t":2.8,"v":5.65},{"p":"B04","c":"r","k":"o","t":4.8,"v":5.3},{"p":"B04","c":"r","k":"o","t":7.1,"v":4.49},{"p":"B04","c":"r","k":"o","t":10,"v":4.26},{"p":"B04","c":"r","k":"o","t":14.3,"v":3.28},{"p":"B04","c":"r","k":"o","t":21,"v":2.4},{"p":"B04","c":"r","k":"o","t":28,"v":1.4},
{"p":"B05","c":"r","k":"f","t":0,"v":5.97},{"p":"B05","c":"r","k":"f","t":0.3,"v":4.5},{"p":"B05","c":"r","k":"f","t":0.9,"v":3.5},{"p":"B05","c":"r","k":"f","t":2.5,"v":3.0},{"p":"B05","c":"r","k":"f","t":5,"v":2.75},{"p":"B05","c":"r","k":"f","t":7,"v":2.6},{"p":"B05","c":"r","k":"f","t":10,"v":2.4},{"p":"B05","c":"r","k":"f","t":14,"v":2.2},{"p":"B05","c":"r","k":"f","t":21,"v":1.9},{"p":"B05","c":"r","k":"f","t":28,"v":1.55},
{"p":"B05","c":"r","k":"o","t":0,"v":5.97},{"p":"B05","c":"r","k":"o","t":0.9,"v":3.51},{"p":"B05","c":"r","k":"o","t":2.7,"v":2.96},{"p":"B05","c":"r","k":"o","t":5,"v":2.96},{"p":"B05","c":"r","k":"o","t":6.8,"v":2.5},{"p":"B05","c":"r","k":"o","t":9.9,"v":2.43},{"p":"B05","c":"r","k":"o","t":14,"v":2.09},{"p":"B05","c":"r","k":"o","t":20.7,"v":1.59},{"p":"B05","c":"r","k":"o","t":27.7,"v":1.29},
{"p":"B06","c":"r","k":"f","t":0,"v":5.97},{"p":"B06","c":"r","k":"f","t":0.3,"v":4.0},{"p":"B06","c":"r","k":"f","t":0.9,"v":3.3},{"p":"B06","c":"r","k":"f","t":2.5,"v":2.8},{"p":"B06","c":"r","k":"f","t":5,"v":2.4},{"p":"B06","c":"r","k":"f","t":7,"v":2.0},{"p":"B06","c":"r","k":"f","t":10,"v":1.5},{"p":"B06","c":"r","k":"f","t":13.5,"v":1.05},{"p":"B06","c":"r","k":"f","t":28,"v":1.05},
{"p":"B06","c":"r","k":"o","t":0,"v":5.97},{"p":"B06","c":"r","k":"o","t":1.1,"v":3.23},{"p":"B06","c":"r","k":"o","t":2.9,"v":2.62},{"p":"B06","c":"r","k":"o","t":5,"v":2.43},{"p":"B06","c":"r","k":"o","t":6.7,"v":1.91},{"p":"B06","c":"r","k":"o","t":10,"v":1.48},
{"p":"B06","c":"r","k":"q","t":14,"v":1.08},{"p":"B06","c":"r","k":"q","t":21,"v":1.08},{"p":"B06","c":"r","k":"q","t":28,"v":1.08},
{"p":"B07","c":"r","k":"f","t":0,"v":5.97},{"p":"B07","c":"r","k":"f","t":0.5,"v":4.5},{"p":"B07","c":"r","k":"f","t":1.2,"v":3.8},{"p":"B07","c":"r","k":"f","t":2.3,"v":3.0},{"p":"B07","c":"r","k":"f","t":4,"v":2.4},{"p":"B07","c":"r","k":"f","t":6,"v":1.8},{"p":"B07","c":"r","k":"f","t":8,"v":1.4},{"p":"B07","c":"r","k":"f","t":10,"v":1.15},{"p":"B07","c":"r","k":"f","t":12,"v":1.05},{"p":"B07","c":"r","k":"f","t":28,"v":1.05},
{"p":"B07","c":"r","k":"o","t":0,"v":5.97},{"p":"B07","c":"r","k":"o","t":0.9,"v":3.92},{"p":"B07","c":"r","k":"o","t":2.8,"v":2.62},{"p":"B07","c":"r","k":"o","t":4.7,"v":2.2},{"p":"B07","c":"r","k":"o","t":6.9,"v":1.59},{"p":"B07","c":"r","k":"o","t":13.7,"v":1.13},
{"p":"B07","c":"r","k":"q","t":9.5,"v":1.08},{"p":"B07","c":"r","k":"q","t":21,"v":1.08},{"p":"B07","c":"r","k":"q","t":28,"v":1.08},
{"p":"B08","c":"r","k":"f","t":0,"v":5.97},{"p":"B08","c":"r","k":"f","t":0.3,"v":4.5},{"p":"B08","c":"r","k":"f","t":0.9,"v":3.4},{"p":"B08","c":"r","k":"f","t":2.5,"v":2.7},{"p":"B08","c":"r","k":"f","t":4.5,"v":2.2},{"p":"B08","c":"r","k":"f","t":7,"v":1.8},{"p":"B08","c":"r","k":"f","t":10,"v":1.4},{"p":"B08","c":"r","k":"f","t":13,"v":1.1},{"p":"B08","c":"r","k":"f","t":14,"v":1.05},{"p":"B08","c":"r","k":"f","t":28,"v":1.05},
{"p":"B08","c":"r","k":"o","t":0,"v":5.97},{"p":"B08","c":"r","k":"o","t":0.9,"v":3.42},{"p":"B08","c":"r","k":"o","t":2.7,"v":2.62},{"p":"B08","c":"r","k":"o","t":5,"v":2.14},{"p":"B08","c":"r","k":"o","t":6.9,"v":2.05},
{"p":"B08","c":"r","k":"q","t":14,"v":1.08},{"p":"B08","c":"r","k":"q","t":28,"v":1.08},
{"p":"B09","c":"r","k":"f","t":0,"v":5.44},{"p":"B09","c":"r","k":"f","t":0.05,"v":3.0},{"p":"B09","c":"r","k":"f","t":0.3,"v":1.8},{"p":"B09","c":"r","k":"f","t":1.5,"v":1.6},{"p":"B09","c":"r","k":"f","t":4,"v":1.3},{"p":"B09","c":"r","k":"f","t":7,"v":1.2},{"p":"B09","c":"r","k":"f","t":10,"v":1.15},{"p":"B09","c":"r","k":"f","t":13,"v":1.05},{"p":"B09","c":"r","k":"f","t":28,"v":1.05},
{"p":"B09","c":"r","k":"o","t":0,"v":5.44},{"p":"B09","c":"r","k":"o","t":1,"v":1.76},{"p":"B09","c":"r","k":"o","t":2.9,"v":1.6},{"p":"B09","c":"r","k":"o","t":5,"v":0.95},{"p":"B09","c":"r","k":"o","t":7.2,"v":1.19},{"p":"B09","c":"r","k":"o","t":10,"v":1.31},{"p":"B09","c":"r","k":"o","t":14.2,"v":1.12},
{"p":"B09","c":"r","k":"q","t":21,"v":1.08},{"p":"B09","c":"r","k":"q","t":28,"v":1.08},
{"p":"B10","c":"r","k":"f","t":0,"v":5.32},{"p":"B10","c":"r","k":"f","t":0.1,"v":3.0},{"p":"B10","c":"r","k":"f","t":0.5,"v":2.1},{"p":"B10","c":"r","k":"f","t":1.4,"v":1.85},{"p":"B10","c":"r","k":"f","t":2.5,"v":1.3},{"p":"B10","c":"r","k":"f","t":3.5,"v":1.05},{"p":"B10","c":"r","k":"f","t":28,"v":1.05},
{"p":"B10","c":"r","k":"o","t":0,"v":5.32},{"p":"B10","c":"r","k":"o","t":1.2,"v":1.9},{"p":"B10","c":"r","k":"o","t":3.2,"v":1.12},
{"p":"B10","c":"r","k":"q","t":4.5,"v":1.08},{"p":"B10","c":"r","k":"q","t":7,"v":1.08},{"p":"B10","c":"r","k":"q","t":10,"v":1.08},{"p":"B10","c":"r","k":"q","t":14,"v":1.08},{"p":"B10","c":"r","k":"q","t":21,"v":1.08},{"p":"B10","c":"r","k":"q","t":28,"v":1.08},
{"p":"B11","c":"r","k":"f","t":0,"v":5.32},{"p":"B11","c":"r","k":"f","t":0.1,"v":3.0},{"p":"B11","c":"r","k":"f","t":0.5,"v":2.0},{"p":"B11","c":"r","k":"f","t":1,"v":1.8},{"p":"B11","c":"r","k":"f","t":2.5,"v":1.3},{"p":"B11","c":"r","k":"f","t":3.5,"v":1.05},{"p":"B11","c":"r","k":"f","t":28,"v":1.05},
{"p":"B11","c":"r","k":"o","t":0,"v":5.32},{"p":"B11","c":"r","k":"o","t":1,"v":1.83},{"p":"B11","c":"r","k":"o","t":2.9,"v":1.12},
{"p":"B11","c":"r","k":"q","t":5,"v":1.08},{"p":"B11","c":"r","k":"q","t":7,"v":1.08},{"p":"B11","c":"r","k":"q","t":10,"v":1.08},{"p":"B11","c":"r","k":"q","t":14,"v":1.08},{"p":"B11","c":"r","k":"q","t":21,"v":1.08},{"p":"B11","c":"r","k":"q","t":28,"v":1.08},
{"p":"B12","c":"r","k":"f","t":0,"v":5.23},{"p":"B12","c":"r","k":"f","t":0.1,"v":3.2},{"p":"B12","c":"r","k":"f","t":0.6,"v":2.3},{"p":"B12","c":"r","k":"f","t":1.2,"v":2.0},{"p":"B12","c":"r","k":"f","t":2.5,"v":1.4},{"p":"B12","c":"r","k":"f","t":3.5,"v":1.05},{"p":"B12","c":"r","k":"f","t":28,"v":1.05},
{"p":"B12","c":"r","k":"o","t":0,"v":5.23},{"p":"B12","c":"r","k":"o","t":1,"v":2.14},{"p":"B12","c":"r","k":"o","t":3.2,"v":1.12},
{"p":"B12","c":"r","k":"q","t":5,"v":1.08},{"p":"B12","c":"r","k":"q","t":7,"v":1.08},{"p":"B12","c":"r","k":"q","t":10,"v":1.08},{"p":"B12","c":"r","k":"q","t":14,"v":1.08},{"p":"B12","c":"r","k":"q","t":21,"v":1.08},{"p":"B12","c":"r","k":"q","t":28,"v":1.08},
{"p":"B13","c":"r","k":"f","t":0,"v":4.04},{"p":"B13","c":"r","k":"f","t":0.6,"v":3.0},{"p":"B13","c":"r","k":"f","t":1.2,"v":2.5},{"p":"B13","c":"r","k":"f","t":2,"v":2.0},{"p":"B13","c":"r","k":"f","t":2.9,"v":1.45},{"p":"B13","c":"r","k":"f","t":3.8,"v":1.1},{"p":"B13","c":"r","k":"f","t":4.2,"v":1.05},{"p":"B13","c":"r","k":"f","t":28,"v":1.05},
{"p":"B13","c":"r","k":"o","t":0,"v":4.04},{"p":"B13","c":"r","k":"o","t":1.2,"v":2.55},{"p":"B13","c":"r","k":"o","t":2.9,"v":1.41},
{"p":"B13","c":"r","k":"q","t":5,"v":1.08},{"p":"B13","c":"r","k":"q","t":7,"v":1.08},{"p":"B13","c":"r","k":"q","t":10,"v":1.08},{"p":"B13","c":"r","k":"q","t":14,"v":1.08},{"p":"B13","c":"r","k":"q","t":21,"v":1.08},{"p":"B13","c":"r","k":"q","t":28,"v":1.08}
]},
"spacing": 92,
"vconcat": [
 {
  "title": {"text": "ARV Treated Patients", "anchor": "start", "frame": "bounds", "font": "Liberation Serif", "fontSize": 33, "fontWeight": "bold", "offset": 26, "dx": 26},
  "vconcat": [{
   "title": {"text": "A", "anchor": "start", "frame": "bounds", "fontSize": 20, "offset": 1, "dx": 6},
   "vconcat": [{
    "title": {"text": "Time [days]", "orient": "bottom", "anchor": "middle", "fontSize": 21, "offset": 10, "dx": -16},
    "vconcat": [{
     "title": {"text": "HCV RNA [IU/ml]", "orient": "left", "anchor": "middle", "fontSize": 22, "offset": 23},
     "transform": [{"filter": "test(/^A/, datum.p)"}],
     "facet": {"field": "p", "type": "nominal", "header": {"labels": false, "labelExpr": "''", "labelFontSize": 1, "labelPadding": 0, "title": null}},
     "columns": 8,
     "bounds": "flush",
     "spacing": {"row": 39, "column": 42},
     "resolve": {"scale": {"x": "independent", "y": "independent"}},
     "spec": {
      "width": 94, "height": 72,
      "encoding": {
       "x": {"field": "t", "type": "quantitative", "scale": {"domain": [0, 28], "nice": false, "zero": false}, "axis": {"values": [0, 7, 14, 21, 28], "labelFontSize": 14}},
       "y": {"field": "v", "type": "quantitative", "scale": {"domain": [1, 7], "nice": false, "zero": false}, "axis": {"values": [1, 3, 5, 7], "labelFontSize": 14, "labelPadding": 5, "labelExpr": "datum.value == 7 ? '10⁷' : datum.value == 5 ? '10⁵' : datum.value == 3 ? '10³' : '10¹'"}}
      },
      "layer": [
       {"transform": [{"filter": "datum.k == 'f'"}], "mark": {"type": "line", "strokeWidth": 3}, "encoding": {"color": {"field": "c", "type": "nominal", "scale": {"domain": ["b", "r"], "range": ["#0000ff", "#ff0000"]}, "legend": null}}},
       {"transform": [{"filter": "datum.k == 'o'"}], "mark": {"type": "point", "shape": "circle", "filled": true, "size": 45, "stroke": "black", "strokeWidth": 1, "opacity": 1},
        "encoding": {
         "x": {"field": "t", "type": "quantitative", "scale": {"domain": [0, 28], "nice": false, "zero": false}, "axis": {"orient": "top", "labels": false, "values": [0, 7, 14, 21, 28]}},
         "y": {"field": "v", "type": "quantitative", "scale": {"domain": [1, 7], "nice": false, "zero": false}, "axis": {"orient": "right", "labels": false, "values": [1, 3, 5, 7]}},
         "fill": {"field": "c", "type": "nominal", "scale": {"domain": ["b", "r"], "range": ["#0000ff", "#ff0000"]}, "legend": null}}},
       {"transform": [{"filter": "datum.k == 'q'"}], "mark": {"type": "point", "shape": "triangle-down", "filled": true, "fill": "white", "size": 16, "stroke": "black", "strokeWidth": 1, "opacity": 1},
        "encoding": {
         "x": {"field": "t", "type": "quantitative", "scale": {"domain": [0, 28], "nice": false, "zero": false}, "axis": null},
         "y": {"field": "v", "type": "quantitative", "scale": {"domain": [1, 7], "nice": false, "zero": false}, "axis": null}}}
      ],
      "resolve": {"axis": {"x": "independent", "y": "independent"}}
     }
    }]
   }]
  }]
 },
 {
  "title": {"text": "Patients Not on ARVs", "anchor": "start", "frame": "bounds", "font": "Liberation Serif", "fontSize": 33, "fontWeight": "bold", "offset": 26, "dx": 0},
  "vconcat": [{
   "title": {"text": "B", "anchor": "start", "frame": "bounds", "fontSize": 20, "offset": 21, "dx": 0},
   "vconcat": [{
    "title": {"text": "Time [days]", "orient": "bottom", "anchor": "middle", "fontSize": 24, "offset": 2, "dx": -25},
    "vconcat": [{
     "title": {"text": "HCV RNA [IU/ml]", "orient": "left", "anchor": "middle", "fontSize": 25, "offset": 22},
     "transform": [{"filter": "test(/^B/, datum.p)"}],
     "facet": {"field": "p", "type": "nominal", "header": {"labels": false, "labelExpr": "''", "labelFontSize": 1, "labelPadding": 0, "title": null}},
     "columns": 8,
     "bounds": "flush",
     "spacing": {"row": 22, "column": 42},
     "resolve": {"scale": {"x": "independent", "y": "independent"}},
     "spec": {
      "width": 94, "height": 88,
      "encoding": {
       "x": {"field": "t", "type": "quantitative", "scale": {"domain": [0, 28], "nice": false, "zero": false}, "axis": {"values": [0, 7, 14, 21, 28], "labelFontSize": 19, "labelPadding": 5}},
       "y": {"field": "v", "type": "quantitative", "scale": {"domain": [1, 7], "nice": false, "zero": false}, "axis": {"values": [1, 3, 5, 7], "labelFontSize": 19, "labelPadding": 5, "labelExpr": "datum.value == 7 ? '10⁷' : datum.value == 5 ? '10⁵' : datum.value == 3 ? '10³' : '10¹'"}}
      },
      "layer": [
       {"transform": [{"filter": "datum.k == 'f'"}], "mark": {"type": "line", "strokeWidth": 3.5}, "encoding": {"color": {"field": "c", "type": "nominal", "scale": {"domain": ["b", "r"], "range": ["#0000ff", "#ff0000"]}, "legend": null}}},
       {"transform": [{"filter": "datum.k == 'o'"}], "mark": {"type": "point", "shape": "circle", "filled": true, "size": 60, "stroke": "black", "strokeWidth": 1, "opacity": 1},
        "encoding": {
         "x": {"field": "t", "type": "quantitative", "scale": {"domain": [0, 28], "nice": false, "zero": false}, "axis": {"orient": "top", "labels": false, "values": [0, 7, 14, 21, 28]}},
         "y": {"field": "v", "type": "quantitative", "scale": {"domain": [1, 7], "nice": false, "zero": false}, "axis": {"orient": "right", "labels": false, "values": [1, 3, 5, 7]}},
         "fill": {"field": "c", "type": "nominal", "scale": {"domain": ["b", "r"], "range": ["#0000ff", "#ff0000"]}, "legend": null}}},
       {"transform": [{"filter": "datum.k == 'q'"}], "mark": {"type": "point", "shape": "triangle-down", "filled": true, "fill": "white", "size": 18, "stroke": "black", "strokeWidth": 1, "opacity": 1},
        "encoding": {
         "x": {"field": "t", "type": "quantitative", "scale": {"domain": [0, 28], "nice": false, "zero": false}, "axis": null},
         "y": {"field": "v", "type": "quantitative", "scale": {"domain": [1, 7], "nice": false, "zero": false}, "axis": null}}}
      ],
      "resolve": {"axis": {"x": "independent", "y": "independent"}}
     }
    }]
   }]
  }]
 }
]
}
